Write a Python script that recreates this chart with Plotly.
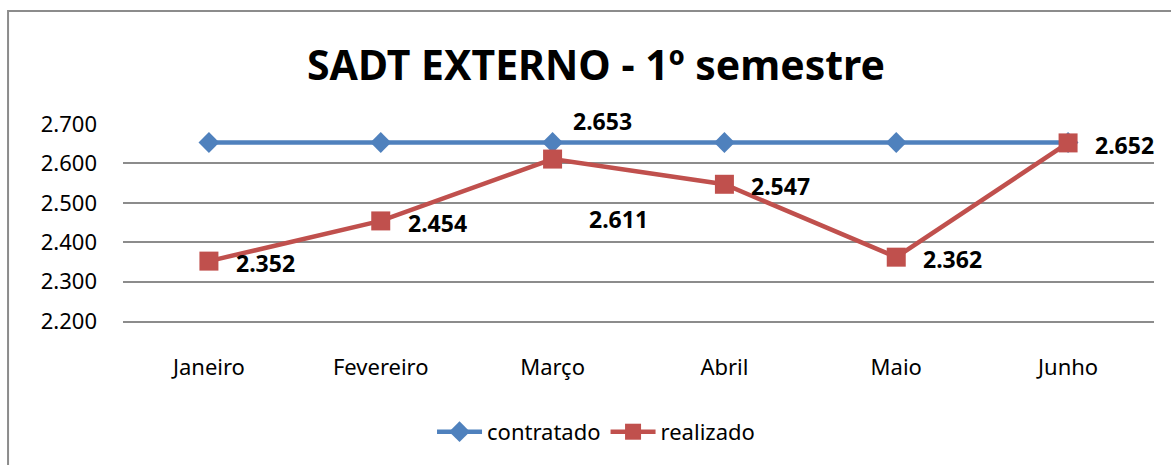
import plotly.graph_objects as go

categories = ["Janeiro", "Fevereiro", "Março", "Abril", "Maio", "Junho"]
contratado = [2653, 2653, 2653, 2653, 2653, 2653]
realizado = [2352, 2454, 2611, 2547, 2362, 2652]
y_ticks = [2200, 2300, 2400, 2500, 2600, 2700]

BLUE = "#4F81BD"
RED = "#C0504D"
FONT = "Noto Sans"
GRID = "#8C8C8C"


def fmt(v):
    return f"{v:,}".replace(",", ".")


fig = go.Figure()
fig.add_trace(go.Scatter(
    x=categories, y=contratado, name="contratado", mode="lines+markers",
    line=dict(color=BLUE, width=4.5),
    marker=dict(symbol="diamond", size=16, color=BLUE),
))
fig.add_trace(go.Scatter(
    x=categories, y=realizado, name="realizado", mode="lines+markers",
    line=dict(color=RED, width=4.5),
    marker=dict(symbol="square", size=19, color=RED),
))

LABEL_FONT = dict(family=FONT, size=23, color="black", weight="bold")
annotations = []
for c, v in zip(categories, realizado):
    if c == "Março":
        xs, ys = 34, -60
    else:
        xs, ys = 25, -2
    annotations.append(dict(
        x=c, y=v, text=fmt(v), showarrow=False, xanchor="left", yanchor="middle",
        xshift=xs, yshift=ys, font=LABEL_FONT,
    ))
annotations.append(dict(
    x="Março", y=contratado[2], text=fmt(contratado[2]), showarrow=False,
    xanchor="left", yanchor="middle", xshift=18, yshift=22, font=LABEL_FONT,
))

fig.update_layout(
    width=1171, height=465,
    margin=dict(l=123, r=17, t=124, b=144),
    paper_bgcolor="white", plot_bgcolor="white",
    separators=",.",
    font=dict(family=FONT, size=22, color="black"),
    title=dict(text="<b>SADT EXTERNO - 1º semestre</b>", x=0.509, xanchor="center",
               y=1 - 66 / 465, yanchor="middle", yref="container",
               font=dict(family=FONT, size=41, color="black")),
    xaxis=dict(type="category", range=[-0.5, 5.5], showgrid=False,
               showline=True, linecolor=GRID, linewidth=1.5,
               ticks="", ticklabelstandoff=26, zeroline=False),
    yaxis=dict(range=[2200, 2700], tickvals=y_ticks, tickformat=",d", showgrid=True,
               gridcolor=GRID, gridwidth=1.5, zeroline=False, showline=False,
               ticks="", ticklabelstandoff=25),
    legend=dict(orientation="h", x=0.4588, xanchor="center", y=-0.563, yanchor="middle",
                font=dict(family=FONT, size=22), tracegroupgap=0, itemwidth=45),
    annotations=annotations,
    shapes=[dict(type="rect", xref="paper", yref="paper", x0=-0.1115, x1=1.2,
                 y0=-1.0, y1=1.5736, line=dict(color=GRID, width=2),
                 fillcolor="rgba(0,0,0,0)", layer="below")],
)

fig.write_html("out.html", config={"displayModeBar": False})
with open("out.html", "r", encoding="utf-8") as f:
    html = f.read()
html = html.replace("<head>", "<head><style>html,body{margin:0;padding:0;overflow:hidden;}</style>", 1)
with open("out.html", "w", encoding="utf-8") as f:
    f.write(html)
